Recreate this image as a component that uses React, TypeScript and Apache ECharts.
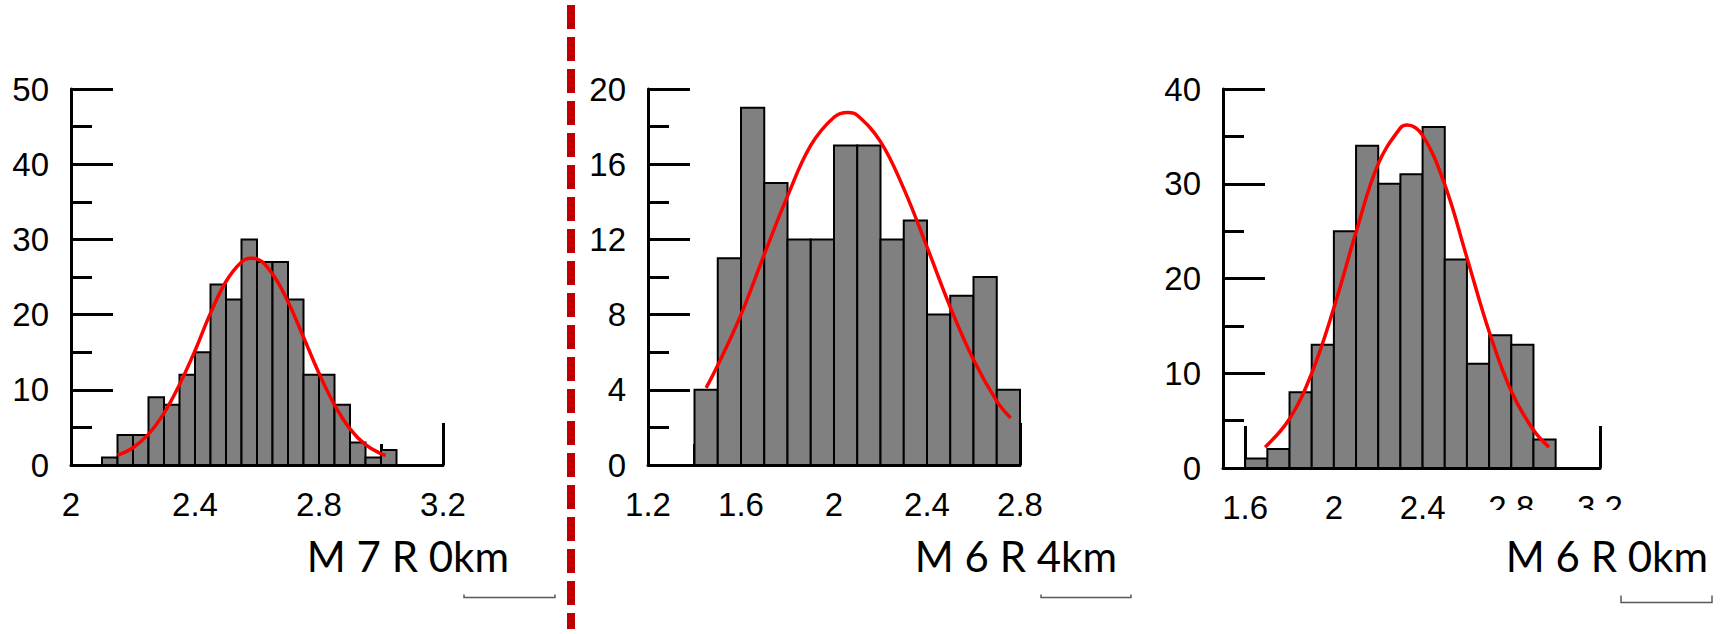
import React, { useEffect, useRef } from 'react';
import * as echarts from 'echarts';

// ---------- Panel 1 : M 7 R 0km ----------
const binLow1 = [2.10, 2.15, 2.20, 2.25, 2.30, 2.35, 2.40, 2.45, 2.50, 2.55, 2.60, 2.65, 2.70, 2.75, 2.80, 2.85, 2.90, 2.95, 3.00];
const binWidth1 = 0.05;
const counts1 = [1, 4, 4, 9, 8, 12, 15, 24, 22, 30, 27, 27, 22, 12, 12, 8, 3, 1, 2];
const curveX1 = [2.15, 2.20, 2.25, 2.30, 2.35, 2.40, 2.45, 2.50, 2.55, 2.58, 2.60, 2.65, 2.70, 2.75, 2.80, 2.85, 2.90, 2.95, 3.00, 3.015];
const curveY1 = [1.3, 2.3, 4.1, 6.9, 10.7, 15.2, 20.2, 24.4, 27.0, 27.5, 27.4, 25.4, 21.7, 17.0, 12.2, 8.0, 4.8, 2.7, 1.5, 1.3];
const xTicks1 = [2, 3.2, 0.4];
const yTicks1 = [0, 50, 10];
const label1 = 'M 7 R 0km';

// ---------- Panel 2 : M 6 R 4km ----------
const binLow2 = [1.4, 1.5, 1.6, 1.7, 1.8, 1.9, 2.0, 2.1, 2.2, 2.3, 2.4, 2.5, 2.6, 2.7];
const binWidth2 = 0.1;
const counts2 = [4, 11, 19, 15, 12, 12, 17, 17, 12, 13, 8, 9, 10, 4];
const curveX2 = [1.45, 1.5, 1.6, 1.7, 1.8, 1.9, 2.0, 2.06, 2.1, 2.2, 2.3, 2.4, 2.5, 2.6, 2.7, 2.76];
const curveY2 = [4.1, 5.3, 8.0, 11.2, 14.3, 17.0, 18.5, 18.75, 18.6, 17.2, 14.7, 11.6, 8.4, 5.6, 3.4, 2.5];
const xTicks2 = [1.2, 2.8, 0.4];
const yTicks2 = [0, 20, 4];
const label2 = 'M 6 R 4km';

// ---------- Panel 3 : M 6 R 0km ----------
const binLow3 = [1.6, 1.7, 1.8, 1.9, 2.0, 2.1, 2.2, 2.3, 2.4, 2.5, 2.6, 2.7, 2.8, 2.9];
const binWidth3 = 0.1;
const counts3 = [1, 2, 8, 13, 25, 34, 30, 31, 36, 22, 11, 14, 13, 3];
const curveX3 = [1.69, 1.8, 1.9, 2.0, 2.1, 2.2, 2.3, 2.33, 2.4, 2.5, 2.6, 2.7, 2.8, 2.9, 2.97];
const curveY3 = [2.2, 5.2, 10.0, 16.9, 24.9, 32.1, 35.9, 36.2, 35.1, 29.9, 22.2, 14.4, 8.1, 4.0, 2.2];
const xRange3 = [1.5, 3.2];
const xTickValues3 = [1.6, 2, 2.4, 2.8, 3.2];
const yTicks3 = [0, 40, 10];
const label3 = 'M 6 R 0km';

const TICK_FONT = 'Liberation Sans, Arial, sans-serif';

function histData(low: number[], width: number, counts: number[]) {
  return counts.map((c, i) => [low[i], low[i] + width, c]);
}
function curveData(xs: number[], ys: number[]) {
  return xs.map((x, i) => [x, ys[i]]);
}

const histRender = (params: any, api: any) => {
  const x0 = api.value(0);
  const x1 = api.value(1);
  const v = api.value(2);
  const p0 = api.coord([x0, 0]);
  const p1 = api.coord([x1, v]);
  return {
    type: 'rect',
    shape: { x: p0[0], y: p1[1], width: p1[0] - p0[0], height: p0[1] - p1[1] },
    style: { fill: '#808080', stroke: '#000000', lineWidth: 2 },
  };
};

function makeX(gridIndex: number, min: number, max: number, interval?: number, custom?: number[]) {
  const ax: any = {
    type: 'value',
    gridIndex,
    min,
    max,
    splitLine: { show: false },
    axisLine: { show: true, onZero: false, lineStyle: { color: '#000', width: 3 } },
    axisTick: { show: true, inside: true, length: 42, lineStyle: { color: '#000', width: 3 } },
    axisLabel: { show: true, margin: 23, fontSize: 33, color: '#000', fontFamily: TICK_FONT, showMinLabel: true, showMaxLabel: true },
  };
  if (interval !== undefined) {
    ax.interval = interval;
    ax.minorTick = { show: true, splitNumber: 2, length: 21, lineStyle: { color: '#000', width: 3 } };
  }
  if (custom) {
    ax.axisTick.customValues = custom;
    ax.axisLabel.customValues = custom;
  }
  return ax;
}

function makeY(gridIndex: number, min: number, max: number, interval: number) {
  return {
    type: 'value',
    gridIndex,
    min,
    max,
    interval,
    splitLine: { show: false },
    axisLine: { show: true, onZero: false, lineStyle: { color: '#000', width: 3 } },
    axisTick: { show: true, inside: true, length: 42, lineStyle: { color: '#000', width: 3 } },
    minorTick: { show: true, splitNumber: 2, length: 21, lineStyle: { color: '#000', width: 3 } },
    axisLabel: { show: true, margin: 22, fontSize: 33, color: '#000', fontFamily: TICK_FONT },
  };
}

function bracket(x0: number, x1: number, y: number, h: number) {
  return {
    type: 'polyline',
    z: 102,
    shape: { points: [[x0, y - h], [x0, y], [x1, y], [x1, y - h]] },
    style: { stroke: '#595959', lineWidth: 1.5, fill: null },
  };
}

function caption(text: string, right: number) {
  return {
    type: 'text',
    z: 102,
    x: right,
    y: 556,
    style: {
      text,
      fontFamily: 'Lato, Calibri, sans-serif',
      fontSize: 42,
      fill: '#000',
      align: 'right',
      verticalAlign: 'middle',
    },
  };
}

function whiteBox(x: number, y: number, w: number, h: number) {
  return { type: 'rect', z: 101, shape: { x, y, width: w, height: h }, style: { fill: '#ffffff' } };
}

export default function App() {
  const ref = useRef<HTMLDivElement>(null);
  useEffect(() => {
    document.body.style.margin = '0';
    document.body.style.overflow = 'hidden';
    if (!ref.current) return;
    const chart = echarts.init(ref.current, undefined, { renderer: 'svg' });
    const lineSeries = (idx: number, xs: number[], ys: number[]) => ({
      type: 'line',
      xAxisIndex: idx,
      yAxisIndex: idx,
      data: curveData(xs, ys),
      smooth: 0.4,
      showSymbol: false,
      symbol: 'none',
      z: 5,
      lineStyle: { color: '#ff0000', width: 3.5 },
    });
    const histSeries = (idx: number, low: number[], w: number, c: number[]) => ({
      type: 'custom',
      xAxisIndex: idx,
      yAxisIndex: idx,
      data: histData(low, w, c),
      encode: { x: [0, 1], y: 2 },
      renderItem: histRender,
      z: 3,
    });
    const option: any = {
      animation: false,
      backgroundColor: '#ffffff',
      grid: [
        { left: 71, top: 89, width: 372, height: 376, outerBoundsMode: 'none' },
        { left: 648, top: 89, width: 372, height: 376, outerBoundsMode: 'none' },
        { left: 1223, top: 89, width: 377, height: 379, outerBoundsMode: 'none' },
      ],
      xAxis: [
        makeX(0, xTicks1[0], xTicks1[1], xTicks1[2]),
        makeX(1, xTicks2[0], xTicks2[1], xTicks2[2]),
        makeX(2, xRange3[0], xRange3[1], undefined, xTickValues3),
      ],
      yAxis: [
        makeY(0, yTicks1[0], yTicks1[1], yTicks1[2]),
        makeY(1, yTicks2[0], yTicks2[1], yTicks2[2]),
        makeY(2, yTicks3[0], yTicks3[1], yTicks3[2]),
      ],
      series: [
        histSeries(0, binLow1, binWidth1, counts1),
        lineSeries(0, curveX1, curveY1),
        histSeries(1, binLow2, binWidth2, counts2),
        lineSeries(1, curveX2, curveY2),
        histSeries(2, binLow3, binWidth3, counts3),
        lineSeries(2, curveX3, curveY3),
      ],
      graphic: [
        {
          type: 'line',
          z: 103,
          shape: { x1: 571, y1: 5, x2: 571, y2: 629 },
          style: { stroke: '#c00000', lineWidth: 8, lineDash: [24, 8] },
        },
        whiteBox(0, 517, 560, 22),
        whiteBox(585, 518, 560, 21),
        whiteBox(1180, 522, 543, 17),
        whiteBox(1470, 510, 253, 14),
        caption(label1, 509),
        caption(label2, 1117),
        caption(label3, 1708),
        bracket(464, 555, 597.5, 3),
        bracket(1041, 1131, 597.5, 3),
        bracket(1621, 1712, 602.5, 7),
      ],
    };
    chart.setOption(option);
    return () => chart.dispose();
  }, []);
  return <div ref={ref} style={{ width: 1723, height: 634 }} />;
}
